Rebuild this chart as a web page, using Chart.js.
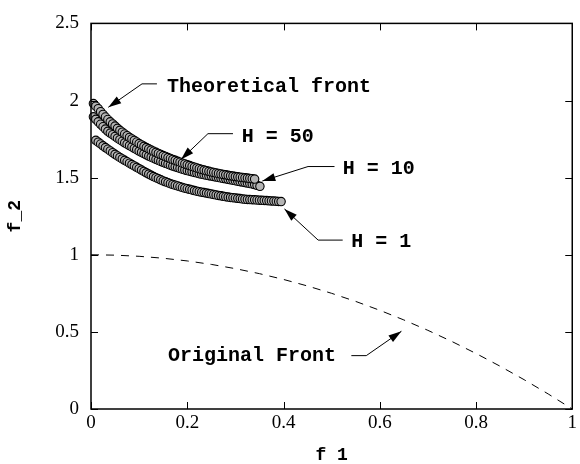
<!DOCTYPE html>
<html>
<head>
<meta charset="utf-8">
<script src="https://cdn.jsdelivr.net/npm/chart.js@4.4.1/dist/chart.umd.min.js"></script>
<style>
  html, body { margin: 0; padding: 0; background: #fff; }
  #wrap { width: 580px; height: 464px; }
</style>
</head>
<body>
<div id="wrap"><canvas id="c" width="580" height="464"></canvas></div>
<script>
// ticks
const xTicks = [0, 0.2, 0.4, 0.6, 0.8, 1];
const xLabels = ['0', '0.2', '0.4', '0.6', '0.8', '1'];
const yTicks = [0, 0.5, 1, 1.5, 2, 2.5];
const yLabels = ['0', '0.5', '1', '1.5', '2', '2.5'];

// H = 50 run (top band)
const h50X = [0.005, 0.010, 0.015, 0.020, 0.025, 0.030, 0.035, 0.040, 0.045, 0.050,
  0.055, 0.060, 0.065, 0.070, 0.075, 0.080, 0.085, 0.090, 0.095, 0.100,
  0.105, 0.110, 0.115, 0.120, 0.125, 0.130, 0.135, 0.140, 0.145, 0.150,
  0.155, 0.160, 0.165, 0.170, 0.175, 0.180, 0.185, 0.190, 0.195, 0.200,
  0.205, 0.210, 0.215, 0.220, 0.225, 0.230, 0.235, 0.240, 0.245, 0.250,
  0.255, 0.260, 0.265, 0.270, 0.275, 0.280, 0.285, 0.290, 0.295, 0.300,
  0.305, 0.310, 0.315, 0.320, 0.325, 0.330, 0.335, 0.340];
const h50Y = [1.980, 1.963, 1.947, 1.928, 1.910, 1.893, 1.877, 1.862, 1.848, 1.834,
  1.820, 1.807, 1.795, 1.783, 1.772, 1.761, 1.751, 1.741, 1.731, 1.721,
  1.712, 1.703, 1.695, 1.687, 1.679, 1.671, 1.664, 1.657, 1.650, 1.643,
  1.637, 1.630, 1.624, 1.618, 1.612, 1.606, 1.600, 1.594, 1.589, 1.583,
  1.578, 1.573, 1.568, 1.563, 1.558, 1.553, 1.549, 1.545, 1.541, 1.537,
  1.534, 1.530, 1.527, 1.524, 1.521, 1.518, 1.515, 1.512, 1.510, 1.507,
  1.505, 1.503, 1.501, 1.499, 1.497, 1.495, 1.493, 1.491];

// H = 10 run
const h10X = [0.005, 0.010, 0.015, 0.020, 0.025, 0.030, 0.035, 0.040, 0.045, 0.050,
  0.055, 0.060, 0.065, 0.070, 0.075, 0.080, 0.085, 0.090, 0.095, 0.100,
  0.105, 0.110, 0.115, 0.120, 0.125, 0.130, 0.135, 0.140, 0.145, 0.150,
  0.155, 0.160, 0.165, 0.170, 0.175, 0.180, 0.185, 0.190, 0.195, 0.200,
  0.205, 0.210, 0.215, 0.220, 0.225, 0.230, 0.235, 0.240, 0.245, 0.250,
  0.255, 0.260, 0.265, 0.270, 0.275, 0.280, 0.285, 0.290, 0.295, 0.300,
  0.305, 0.310, 0.315, 0.320, 0.325, 0.330, 0.335, 0.340, 0.345, 0.351];
const h10Y = [1.894, 1.878, 1.862, 1.846, 1.830, 1.815, 1.800, 1.789, 1.778, 1.767,
  1.756, 1.746, 1.736, 1.726, 1.717, 1.708, 1.699, 1.690, 1.681, 1.672,
  1.664, 1.656, 1.648, 1.640, 1.633, 1.626, 1.619, 1.612, 1.605, 1.599,
  1.593, 1.587, 1.581, 1.575, 1.570, 1.565, 1.560, 1.555, 1.550, 1.546,
  1.542, 1.538, 1.534, 1.530, 1.526, 1.522, 1.519, 1.516, 1.513, 1.510,
  1.507, 1.504, 1.501, 1.498, 1.495, 1.492, 1.489, 1.486, 1.483, 1.480,
  1.477, 1.474, 1.471, 1.468, 1.465, 1.462, 1.459, 1.455, 1.450, 1.444];

// H = 1 run (lowest band)
const h1X = [0.010, 0.015, 0.020, 0.025, 0.030, 0.035, 0.040, 0.045, 0.050,
  0.055, 0.060, 0.065, 0.070, 0.075, 0.080, 0.085, 0.090, 0.095, 0.100,
  0.105, 0.110, 0.115, 0.120, 0.125, 0.130, 0.135, 0.140, 0.145, 0.150,
  0.155, 0.160, 0.165, 0.170, 0.175, 0.180, 0.185, 0.190, 0.195, 0.200,
  0.205, 0.210, 0.215, 0.220, 0.225, 0.230, 0.235, 0.240, 0.245, 0.250,
  0.255, 0.260, 0.265, 0.270, 0.275, 0.280, 0.285, 0.290, 0.295, 0.300,
  0.305, 0.310, 0.315, 0.320, 0.325, 0.330, 0.335, 0.340, 0.345, 0.350,
  0.355, 0.360, 0.365, 0.370, 0.375, 0.380, 0.385, 0.390, 0.395];
const h1Y = [1.742, 1.730, 1.718, 1.706, 1.695, 1.684, 1.673, 1.662, 1.651,
  1.641, 1.631, 1.621, 1.612, 1.603, 1.594, 1.585, 1.576, 1.567, 1.558,
  1.549, 1.540, 1.531, 1.523, 1.515, 1.507, 1.500, 1.493, 1.486, 1.479,
  1.473, 1.467, 1.461, 1.456, 1.451, 1.446, 1.441, 1.436, 1.432, 1.428,
  1.424, 1.420, 1.416, 1.412, 1.409, 1.406, 1.403, 1.400, 1.397, 1.394,
  1.391, 1.388, 1.385, 1.382, 1.379, 1.376, 1.374, 1.372, 1.370, 1.368,
  1.366, 1.364, 1.362, 1.360, 1.359, 1.358, 1.357, 1.356, 1.355, 1.354,
  1.353, 1.352, 1.351, 1.350, 1.349, 1.348, 1.347, 1.346, 1.345];

// original front (dashed)
const origX = [0, 0.05, 0.1, 0.15, 0.2, 0.25, 0.3, 0.35, 0.4, 0.45, 0.5,
  0.55, 0.6, 0.65, 0.7, 0.75, 0.8, 0.85, 0.9, 0.95, 1];
const origY = [1, 0.9975, 0.99, 0.9775, 0.96, 0.9375, 0.91, 0.8775, 0.84, 0.7975, 0.75,
  0.6975, 0.64, 0.5775, 0.51, 0.4375, 0.36, 0.2775, 0.19, 0.0975, 0];

// callout labels, anchored in data units
const notes = [
  { text: 'Theoretical front', at: [0.158, 2.09], path: [[0.137, 2.108], [0.106, 2.108], [0.036, 1.956]] },
  { text: 'H = 50', at: [0.313, 1.766], path: [[0.295, 1.785], [0.243, 1.785], [0.187, 1.618]] },
  { text: 'H = 10', at: [0.523, 1.555], path: [[0.506, 1.572], [0.451, 1.572], [0.356, 1.478]] },
  { text: 'H = 1', at: [0.541, 1.080], path: [[0.523, 1.095], [0.472, 1.095], [0.402, 1.297]] },
  { text: 'Original Front', at: [0.160, 0.342], path: [[0.541, 0.346], [0.572, 0.346], [0.645, 0.504]] },
];

const pts = (xs, ys) => xs.map((v, i) => ({ x: v, y: ys[i] }));

const markerStyle = {
  type: 'scatter',
  showLine: false,
  pointRadius: 4.2,
  pointBackgroundColor: '#b4b4b4',
  pointBorderColor: '#000',
  pointBorderWidth: 1.1,
  clip: false,
};

const frame = {
  id: 'frame',
  afterDraw(chart) {
    const { ctx, chartArea: a, scales: { x, y } } = chart;
    ctx.save();
    ctx.strokeStyle = '#000';
    ctx.lineWidth = 1;
    ctx.beginPath();
    xTicks.forEach(v => {
      const px = Math.round(x.getPixelForValue(v)) + 0.5;
      ctx.moveTo(px, a.bottom); ctx.lineTo(px, a.bottom - 7);
      ctx.moveTo(px, a.top); ctx.lineTo(px, a.top + 7);
    });
    yTicks.forEach(v => {
      const py = Math.round(y.getPixelForValue(v)) + 0.5;
      ctx.moveTo(a.left, py); ctx.lineTo(a.left + 7, py);
      ctx.moveTo(a.right, py); ctx.lineTo(a.right - 7, py);
    });
    ctx.stroke();
    ctx.lineWidth = 1.5;
    ctx.strokeRect(a.left, a.top, a.right - a.left, a.bottom - a.top);

    // callouts
    ctx.font = 'bold 20px "Liberation Mono", "Courier New", monospace';
    ctx.fillStyle = '#000';
    ctx.textBaseline = 'middle';
    ctx.lineWidth = 1;
    notes.forEach(n => {
      ctx.fillText(n.text, x.getPixelForValue(n.at[0]), y.getPixelForValue(n.at[1]));
      const p = n.path.map(q => [x.getPixelForValue(q[0]), y.getPixelForValue(q[1])]);
      ctx.beginPath();
      ctx.moveTo(p[0][0], p[0][1]);
      for (let i = 1; i < p.length; i++) ctx.lineTo(p[i][0], p[i][1]);
      ctx.stroke();
      const [tx, ty] = p[p.length - 1];
      const [sx, sy] = p[p.length - 2];
      const ang = Math.atan2(ty - sy, tx - sx);
      const len = 13, half = 4;
      ctx.beginPath();
      ctx.moveTo(tx, ty);
      ctx.lineTo(tx - len * Math.cos(ang) + half * Math.sin(ang), ty - len * Math.sin(ang) - half * Math.cos(ang));
      ctx.lineTo(tx - len * Math.cos(ang) - half * Math.sin(ang), ty - len * Math.sin(ang) + half * Math.cos(ang));
      ctx.closePath();
      ctx.fill();
    });
    ctx.restore();
  }
};

const tickFont = { family: '"Liberation Serif", "Times New Roman", serif', size: 19 };
const titleFont = { family: '"Liberation Mono", "Courier New", monospace', size: 18, weight: 'bold', lineHeight: 1 };

new Chart(document.getElementById('c').getContext('2d'), {
  data: {
    datasets: [
      { ...markerStyle, label: 'H = 50', data: pts(h50X, h50Y) },
      { ...markerStyle, label: 'H = 10', data: pts(h10X, h10Y) },
      { ...markerStyle, label: 'H = 1', data: pts(h1X, h1Y) },
      {
        type: 'line',
        label: 'Original Front',
        data: pts(origX, origY),
        borderColor: '#000',
        borderWidth: 1,
        borderDash: [8, 7],
        pointRadius: 0,
        fill: false,
      },
    ],
  },
  options: {
    responsive: false,
    animation: false,
    layout: { padding: { left: 0, top: 14, right: 7, bottom: 0 } },
    plugins: { legend: { display: false }, tooltip: { enabled: false } },
    scales: {
      x: {
        type: 'linear',
        min: 0,
        max: 1,
        afterBuildTicks: s => { s.ticks = xTicks.map(v => ({ value: v })); },
        afterFit: s => { s.height = 55; },
        grid: { display: false, drawTicks: false },
        border: { display: false },
        ticks: { color: '#000', font: tickFont, padding: 3, maxRotation: 0, callback: (v, i) => xLabels[i] },
        title: { display: true, text: 'f 1', color: '#000', font: titleFont, padding: { top: 0, bottom: 0 } },
      },
      y: {
        type: 'linear',
        min: 0,
        max: 2.5,
        afterBuildTicks: s => { s.ticks = yTicks.map(v => ({ value: v })); },
        afterFit: s => { s.width = 91; },
        grid: { display: false, drawTicks: false },
        border: { display: false },
        ticks: { color: '#000', font: tickFont, padding: 12, callback: (v, i) => yLabels[i] },
        title: { display: true, text: 'f_2', color: '#000', font: titleFont, padding: { top: 6, bottom: 0 } },
      },
    },
  },
  plugins: [frame],
});
</script>
</body>
</html>
